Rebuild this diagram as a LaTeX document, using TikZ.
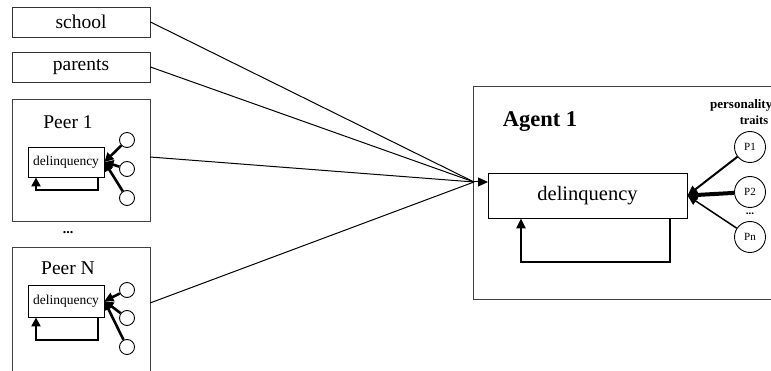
\documentclass[tikz,border=0pt]{standalone}
\usepackage{fontspec}
\setmainfont{Liberation Serif}
\usetikzlibrary{arrows.meta}
\begin{document}
\begin{tikzpicture}[x=1pt,y=-1pt,
  box/.style={draw=black!80, line width=0.9pt, minimum width=138pt, minimum height=30pt, inner sep=0pt, font=\fontsize{19.5}{19.5}\selectfont},
  frame/.style={draw=black!75, line width=1pt, inner sep=0pt},
  sdel/.style={draw=black, line width=0.9pt, fill=white, minimum width=76pt, minimum height=30pt, inner sep=0pt, font=\fontsize{13.5}{13.5}\selectfont},
  scirc/.style={draw=black, line width=0.9pt, circle, minimum size=15pt, inner sep=0pt},
  pcirc/.style={draw=black, line width=0.9pt, circle, minimum size=31pt, inner sep=0pt, font=\fontsize{11}{11}\selectfont},
  tip/.style={-{Triangle[length=10pt,width=9pt]}},
  stip/.style={-{Triangle[length=9pt,width=9pt]}},
  loopln/.style={line width=2.6pt},
  inln/.style={line width=1pt}
]
\clip (0,0) rectangle (771,371);
\fill[white] (0,0) rectangle (771,371);

% left boxes
\node[box] (school) at (81,22) {school};
\node[box] (parents) at (81,67) {parents};

% Peer 1
\node[frame, minimum width=138pt, minimum height=122pt] (peer1) at (81,161) {};
\node[font=\fontsize{19.5}{19.5}\selectfont, inner sep=0pt] (p1lab) at (68,122) {Peer 1};
\node[sdel] (d1) at (66,162) {delinquency};
\node[scirc] (c11) at (127,140) {};
\node[scirc] (c12) at (127,169) {};
\node[scirc] (c13) at (127,198) {};
\draw[loopln, stip] (c11) -- (d1.east);
\draw[loopln, stip] (c12) -- (d1.east);
\draw[loopln, stip] (c13) -- (d1.east);
\coordinate (l1a) at (98,190);
\coordinate (l1b) at (36,190);
\draw[loopln, stip] (d1.south -| l1a) -- (l1a) -- (l1b) -- (d1.south -| l1b);

\node[font=\bfseries\fontsize{14}{14}\selectfont, inner sep=0pt] (dots1) at (68,233) {...};

% Peer N
\node[frame, minimum width=138pt, minimum height=152pt] (peerN) at (81,324) {};
\node[font=\fontsize{19.5}{19.5}\selectfont, inner sep=0pt] (pNlab) at (68,268) {Peer N};
\node[sdel, minimum height=32pt] (dN) at (66,301) {delinquency};
\node[scirc] (cN1) at (127,290) {};
\node[scirc] (cN2) at (127,318) {};
\node[scirc] (cN3) at (127,347) {};
\draw[loopln, stip] (cN1) -- (dN.east);
\draw[loopln, stip] (cN2) -- (dN.east);
\draw[loopln, stip] (cN3) -- (dN.east);
\coordinate (lNa) at (98,340);
\coordinate (lNb) at (36,340);
\draw[loopln, stip] (dN.south -| lNa) -- (lNa) -- (lNb) -- (dN.south -| lNb);

% Agent 1
\node[frame, minimum width=330pt, minimum height=213pt] (agent) at (638,193.5) {};
\node[font=\bfseries\fontsize{22.5}{22.5}\selectfont, inner sep=0pt] (alab) at (540,122) {Agent 1};
\node[draw=black, line width=0.9pt, minimum width=199pt, minimum height=45pt, inner sep=0pt, font=\fontsize{20.5}{20.5}\selectfont] (ad) at (587.5,195.5) {delinquency};
\node[font=\bfseries\fontsize{13}{13}\selectfont, inner sep=0pt, anchor=west] (pers) at (710,105) {personality};
\node[font=\bfseries\fontsize{12.5}{12.5}\selectfont, inner sep=0pt] (traits) at (754,120) {traits};
\node[pcirc] (P1) at (750,147) {P1};
\node[pcirc] (P2) at (750,192) {P2};
\node[pcirc] (Pn) at (750,237) {Pn};
\node[font=\bfseries\fontsize{11}{11}\selectfont, inner sep=0pt] (pdots) at (750,214) {...};
\draw[line width=2pt, tip] (P1) -- (ad.east);
\draw[line width=4pt, tip] (P2) -- (ad.east);
\draw[line width=1.5pt, tip] (Pn) -- (ad.east);
\coordinate (la) at (670,262);
\coordinate (lb) at (521,262);
\draw[loopln, tip] (ad.south -| la) -- (la) -- (lb) -- (ad.south -| lb);

% inputs
\coordinate (conv) at (474,182);
\coordinate (ain) at (488,182);
\coordinate (p1out) at (150,157);
\coordinate (pNout) at (150,303);
\draw[inln] (school.east) -- (conv);
\draw[inln] (parents.east) -- (conv);
\draw[inln] (p1out) -- (conv);
\draw[inln] (pNout) -- (conv);
\draw[inln, tip] (conv) -- (ain);
\end{tikzpicture}
\end{document}
